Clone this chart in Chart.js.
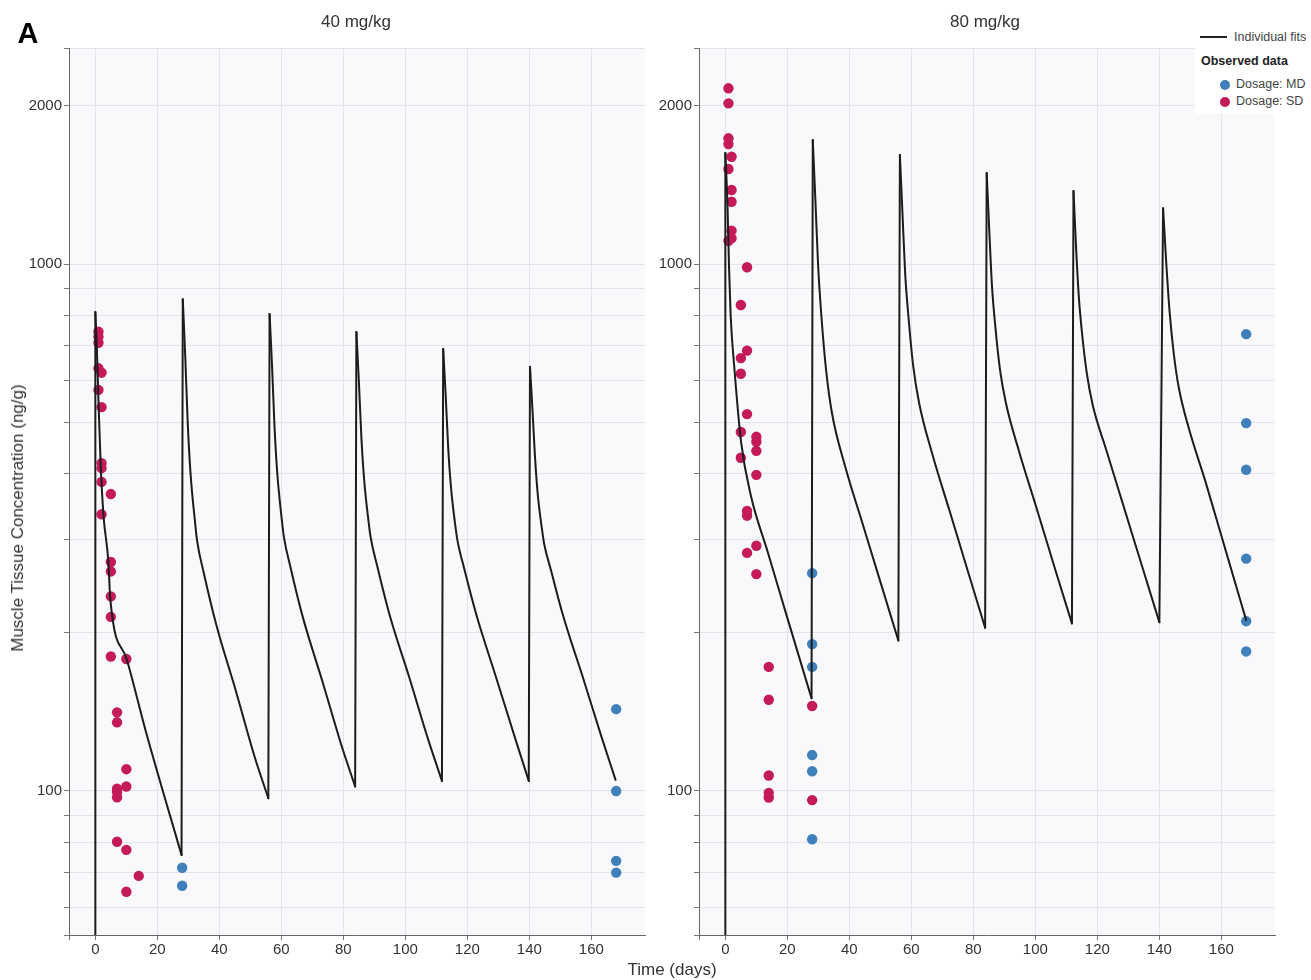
<!DOCTYPE html>
<html>
<head>
<meta charset="utf-8">
<script src="https://cdn.jsdelivr.net/npm/chart.js@4.4.1/dist/chart.umd.min.js"></script>
<style>
  body { margin: 0; background: #fff; font-family: "Liberation Sans", Arial, sans-serif; }
  #wrap { position: relative; width: 1311px; height: 980px; overflow: hidden; }
  canvas { position: absolute; top: 0; }
  .txt { position: absolute; white-space: nowrap; color: #333; transform: translate(-50%, -50%); }
  #legend { position: absolute; left: 1195px; top: 26px; width: 116px; height: 88px; background: #fff; font-size: 12.5px; color: #444; }
  #legend div { position: absolute; white-space: nowrap; }
  .dot { width: 10px; height: 10px; border-radius: 50%; }
</style>
</head>
<body>
<div id="wrap">
  <canvas id="chartLeft" width="660" height="980" style="left:0"></canvas>
  <canvas id="chartRight" width="650" height="980" style="left:640px"></canvas>

  <div class="txt" style="left:28px;top:33px;font-size:29px;font-weight:bold;color:#000">A</div>
  <div class="txt" style="left:356px;top:22px;font-size:17px">40 mg/kg</div>
  <div class="txt" style="left:985px;top:22px;font-size:17px">80 mg/kg</div>
  <div class="txt" style="left:18px;top:518px;font-size:17px;transform:translate(-50%,-50%) rotate(-90deg)">Muscle Tissue Concentration (ng/g)</div>
  <div class="txt" style="left:672px;top:970px;font-size:17px">Time (days)</div>

  <div id="legend">
    <div style="left:5px;top:10px;width:27px;height:2px;background:#222"></div>
    <div style="left:39px;top:4px">Individual fits</div>
    <div style="left:6px;top:28px;font-weight:bold;color:#222">Observed data</div>
    <div class="dot" style="left:25px;top:54px;background:#3f7fba"></div>
    <div style="left:41px;top:51px">Dosage: MD</div>
    <div class="dot" style="left:25px;top:71px;background:#c51a5a"></div>
    <div style="left:41px;top:68px">Dosage: SD</div>
  </div>
</div>

<script>
// Trục chung
const xMin = -8.5;
const xMax = 177.3;
const yMin = 53.3;
const yMax = 2570;
const xTicks = [-8.5, 0, 20, 40, 60, 80, 100, 120, 140, 160];
const yTicks = [53.3, 60, 70, 80, 90, 100, 200, 300, 400, 500, 600, 700, 800, 900, 1000, 2000, 2570];
const yLabels = [100, 1000, 2000];

// 40 mg/kg - đường fit
const leftFitDays = [0, 0, 0.5, 1, 1.7, 2.6, 4.2, 4.8, 10.1, 16.4, 27.8,
  28.2, 29.0, 29.8, 30.7, 32.2, 32.8, 35.0, 38.9, 45.3, 51.4, 55.8,
  56.2, 57.0, 57.8, 58.7, 60.2, 60.8, 63.0, 66.9, 73.3, 79.4, 83.8,
  84.2, 85.0, 85.8, 86.7, 88.2, 88.8, 91.0, 94.9, 101.3, 107.4, 111.8,
  112.2, 113.0, 113.8, 114.7, 116.2, 116.8, 119.0, 122.9, 129.3, 135.4, 139.8,
  140.2, 141.0, 141.8, 142.7, 144.2, 144.8, 147.0, 150.9, 157.3, 163.4, 167.8];
const leftFitConc = [1, 811, 687, 552, 419, 335, 272, 232, 178, 129, 75.6,
  857, 667, 499, 401, 322, 299, 259, 208, 155, 116, 96.9,
  804, 640, 490, 400, 325, 304, 265, 214, 161, 122, 102,
  743, 600, 470, 390, 322, 303, 266, 216, 164, 125, 104.5,
  690, 565, 450, 378, 316, 299, 264, 216, 164, 126, 104.5,
  638, 530, 432, 366, 310, 294, 262, 215, 164, 126, 105];

// 40 mg/kg - số liệu quan sát
const leftMdDays = [28, 28, 168, 168, 168, 168];
const leftMdConc = [71.5, 66.1, 143, 100, 73.7, 70.0];
const leftSdDays = [1, 1, 1, 1, 2, 1, 2, 2, 2, 2, 5, 2, 5, 5, 5, 5, 5, 10, 7, 7, 10, 10, 7, 7, 7, 7, 10, 14, 10];
const leftSdConc = [744, 728, 709, 634, 622, 577, 535, 419, 410, 386, 366, 335, 272, 261, 234, 214, 180, 178, 141, 135, 110, 102, 101, 99.7, 97.3, 80.1, 77.3, 69, 64.4];

// 80 mg/kg - đường fit
const rightFitDays = [0, 0, 0.7, 1.2, 1.7, 3.0, 5.1, 8.3, 13.6, 19.9, 27.8,
  28.2, 29.0, 29.9, 31.0, 32.5, 34.4, 38.7, 44.1, 50.5, 55.8,
  56.3, 57.1, 58.0, 59.1, 60.6, 62.5, 66.8, 72.2, 78.6, 83.8,
  84.3, 85.1, 86.0, 87.1, 88.6, 90.5, 94.8, 100.2, 106.6, 111.8,
  112.3, 113.1, 114.0, 115.1, 116.6, 118.5, 122.8, 128.2, 134.6, 140.0,
  141.2, 142.2, 143.3, 144.7, 146.3, 149.5, 154.9, 162.4, 168];
const rightFitConc = [1, 1624, 1290, 980, 800, 625, 458, 362, 285, 214, 150,
  1719, 1342, 1000, 794, 629, 521, 412, 324, 244, 193,
  1610, 1260, 960, 790, 640, 545, 435, 342, 257, 204,
  1488, 1170, 910, 760, 630, 545, 440, 347, 261, 208,
  1376, 1085, 870, 735, 620, 540, 445, 351, 265, 209,
  1276, 1010, 812, 672, 581, 488, 386, 273, 211];

// 80 mg/kg - số liệu quan sát
const rightMdDays = [28, 28, 28, 28, 28, 28, 168, 168, 168, 168, 168, 168];
const rightMdConc = [259, 190, 172, 117, 109, 81.0, 736, 499, 407, 276, 210, 184];
const rightSdDays = [1, 1, 1, 1, 1, 1, 2, 2, 2, 2, 2, 5, 5, 5, 5, 5,
  7, 7, 7, 7, 7, 7, 10, 10, 10, 10, 10, 10, 14, 14, 14, 14, 14, 28, 28];
const rightSdConc = [2155, 2018, 1732, 1689, 1515, 1107, 1598, 1382, 1313, 1157, 1119, 836, 663, 619, 480, 429,
  986, 685, 519, 340, 333, 283, 470, 460, 442, 398, 292, 258, 172, 149, 107, 99.2, 97.2, 145, 96.1];

const toPoints = (xs, ys) => xs.map((x, i) => ({ x: x, y: ys[i] }));

// Tách đường fit: mỗi đoạn giảm vẽ cong (monotone), mỗi lần tiêm vẽ thẳng
function fitDatasets(days, conc) {
  const sets = [];
  const style = { showLine: true, borderColor: '#1c1c1c', borderWidth: 2, pointRadius: 0, borderCapStyle: 'round' };
  let seg = [{ x: days[0], y: conc[0] }];
  for (let i = 1; i < days.length; i++) {
    const p = { x: days[i], y: conc[i] };
    if (conc[i] > conc[i - 1]) {
      if (seg.length > 1) sets.push({ ...style, data: seg, cubicInterpolationMode: 'monotone' });
      sets.push({ ...style, data: [seg[seg.length - 1], p], tension: 0 });
      seg = [p];
    } else {
      seg.push(p);
    }
  }
  sets.push({ ...style, data: seg, cubicInterpolationMode: 'monotone' });
  return sets;
}

// Nền nhạt cho vùng vẽ
const plotBg = {
  id: 'plotBg',
  beforeDraw(chart) {
    const { ctx, chartArea: a } = chart;
    ctx.save();
    ctx.fillStyle = '#f9f9fc';
    ctx.fillRect(a.left, a.top, a.right - a.left, a.bottom - a.top);
    ctx.restore();
  }
};

function makeChart(id, yWidth, fitDays, fitConc, mdDays, mdConc, sdDays, sdConc) {
  const tickFont = { family: '"Liberation Sans", Arial, sans-serif', size: 15 };
  return new Chart(document.getElementById(id), {
    type: 'scatter',
    data: {
      datasets: [
        ...fitDatasets(fitDays, fitConc),
        {
          label: 'Dosage: MD',
          data: toPoints(mdDays, mdConc),
          backgroundColor: '#3f7fba',
          borderWidth: 0,
          pointRadius: 5.2
        },
        {
          label: 'Dosage: SD',
          data: toPoints(sdDays, sdConc),
          backgroundColor: '#c51a5a',
          borderWidth: 0,
          pointRadius: 5.2
        }
      ]
    },
    options: {
      responsive: false,
      animation: false,
      events: [],
      layout: { padding: { top: 48, right: 15, left: 0, bottom: 0 } },
      plugins: { legend: { display: false }, tooltip: { enabled: false } },
      scales: {
        x: {
          type: 'linear',
          min: xMin,
          max: xMax,
          afterBuildTicks: scale => { scale.ticks = xTicks.map(v => ({ value: v })); },
          afterFit: scale => { scale.height = 45; },
          ticks: {
            autoSkip: false,
            maxRotation: 0,
            padding: 1,
            color: '#333',
            font: tickFont,
            callback: v => (v % 20 === 0 ? String(v) : '')
          },
          grid: { color: '#e3e3eb', tickColor: '#777', tickLength: 5 },
          border: { color: '#666', width: 1 }
        },
        y: {
          type: 'logarithmic',
          min: yMin,
          max: yMax,
          afterBuildTicks: scale => { scale.ticks = yTicks.map(v => ({ value: v })); },
          afterFit: scale => { scale.width = yWidth; },
          ticks: {
            autoSkip: false,
            padding: 2,
            color: '#333',
            font: tickFont,
            callback: v => (yLabels.includes(v) ? String(v) : '')
          },
          grid: { color: '#e3e3eb', tickColor: '#777', tickLength: 5 },
          border: { color: '#666', width: 1 }
        }
      }
    },
    plugins: [plotBg]
  });
}

makeChart('chartLeft', 69, leftFitDays, leftFitConc, leftMdDays, leftMdConc, leftSdDays, leftSdConc);
makeChart('chartRight', 59, rightFitDays, rightFitConc, rightMdDays, rightMdConc, rightSdDays, rightSdConc);
</script>
</body>
</html>
